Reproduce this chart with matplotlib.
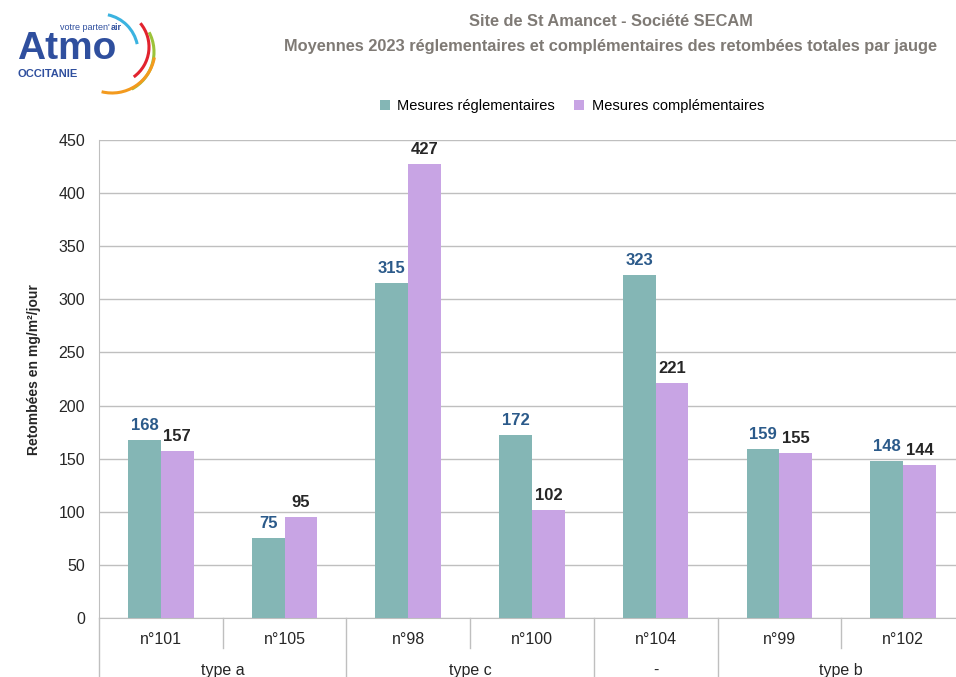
import numpy as np
import matplotlib.pyplot as plt
from matplotlib.patches import Arc
from matplotlib.transforms import blended_transform_factory

plt.rcParams['font.family'] = ['Liberation Sans', 'DejaVu Sans']

jauges = ["n°101", "n°105", "n°98", "n°100", "n°104", "n°99", "n°102"]
groupes = ["type a", "type c", "-", "type b"]
groupe_taille = [2, 2, 1, 2]
reglementaires = [168, 75, 315, 172, 323, 159, 148]
complementaires = [157, 95, 427, 102, 221, 155, 144]

teal = "#84b6b5"
violet = "#c8a4e4"
grid_c = "#bfbfbf"

fig = plt.figure(figsize=(9.56, 6.77), dpi=100)
W, H = 956, 677
x0, x1, ytop, ybot = 99, 99 + 7 * 123.7, 140, 618
ax = fig.add_axes([x0 / W, 1 - ybot / H, (x1 - x0) / W, (ybot - ytop) / H])

x = np.arange(len(jauges))
bw = 0.265
b1 = ax.bar(x - bw / 2, reglementaires, bw, color=teal, label="Mesures réglementaires", zorder=3)
b2 = ax.bar(x + bw / 2, complementaires, bw, color=violet, label="Mesures complémentaires", zorder=3)

for r, v in zip(b1, reglementaires):
    ax.annotate(str(v), (r.get_x() + r.get_width() / 2, v), xytext=(0, 5), textcoords="offset points",
                ha="center", va="bottom", fontsize=12, fontweight="bold", color="#2b5a8a")
for r, v in zip(b2, complementaires):
    ax.annotate(str(v), (r.get_x() + r.get_width() / 2, v), xytext=(0, 5), textcoords="offset points",
                ha="center", va="bottom", fontsize=12, fontweight="bold", color="#262626")

ax.set_ylim(0, 450)
ax.set_yticks(np.arange(0, 451, 50))
ax.set_xlim(-0.5, len(jauges) - 0.5)
ax.yaxis.grid(True, color=grid_c, lw=1, zorder=0)
ax.set_axisbelow(True)
for s in ["top", "right"]:
    ax.spines[s].set_visible(False)
ax.spines["left"].set_color(grid_c)
ax.spines["bottom"].set_color(grid_c)
ax.tick_params(axis="y", length=0, labelsize=11.5, labelcolor="#262626", pad=10)
ax.tick_params(axis="x", length=0, labelsize=11.5, labelcolor="#262626", pad=10)
ax.set_xticks(x)
ax.set_xticklabels(jauges)
ax.set_ylabel("Retombées en mg/m²/jour", fontsize=10, fontweight="bold", color="#262626")
ax.yaxis.set_label_coords(-0.067, 0.52)

# separateurs et groupes sous l'axe
tr = blended_transform_factory(ax.transData, ax.transAxes)
bornes = np.concatenate([[0], np.cumsum(groupe_taille)]) - 0.5
for i in range(len(jauges) + 1):
    xb = i - 0.5
    low = -0.125 if xb in bornes else -0.063
    ax.plot([xb, xb], [0, low], transform=tr, color=grid_c, lw=1, clip_on=False)
for g, a, b in zip(groupes, bornes[:-1], bornes[1:]):
    ax.text((a + b) / 2, -0.109, g, transform=tr, ha="center", va="center", fontsize=11.5, color="#262626")

# titre
fig.text(611 / W, 1 - 22 / H, "Site de St Amancet - Société SECAM", ha="center", va="center",
         fontsize=11.8, fontweight="bold", color="#7f7a75")
fig.text(611 / W, 1 - 46 / H, "Moyennes 2023 réglementaires et complémentaires des retombées totales par jauge",
         ha="center", va="center", fontsize=11.8, fontweight="bold", color="#7f7a75")

fig.legend(loc="center", bbox_to_anchor=(572 / W, 1 - 106 / H), ncol=2, frameon=False,
           fontsize=10.5, handlelength=0.7, handleheight=0.7, handletextpad=0.5, columnspacing=1.3)

# logo
lax = fig.add_axes([0, 1 - 100 / H, 180 / W, 100 / H])
lax.set_xlim(0, 180)
lax.set_ylim(100, 0)
lax.set_aspect("equal")
lax.axis("off")
lax.text(17, 59, "Atmo", fontsize=28, fontweight="bold", color="#2f4f9e", va="baseline", ha="left")
lax.text(17, 77, "OCCITANIE", fontsize=8, fontweight="bold", color="#2f4f9e", va="baseline", ha="left")
lax.text(60, 30, "votre parten'", fontsize=6.5, color="#2f4f9e", va="baseline", ha="left")
lax.text(111, 30, "air", fontsize=6.5, fontweight="bold", color="#2f4f9e", va="baseline", ha="left")
for c, rad, t1, t2, col in [((100, 52), 38, -78, -12, "#3bb3e0"), ((112, 47), 37, -40, 54, "#e2232e"),
                            ((112, 52), 42, -28, 62, "#9cc33a"), ((112, 50), 43, 10, 104, "#f39a1e")]:
    lax.add_patch(Arc(c, 2 * rad, 2 * rad, theta1=t1, theta2=t2, color=col, lw=2.2))

fig.savefig("out.png", dpi=100)
